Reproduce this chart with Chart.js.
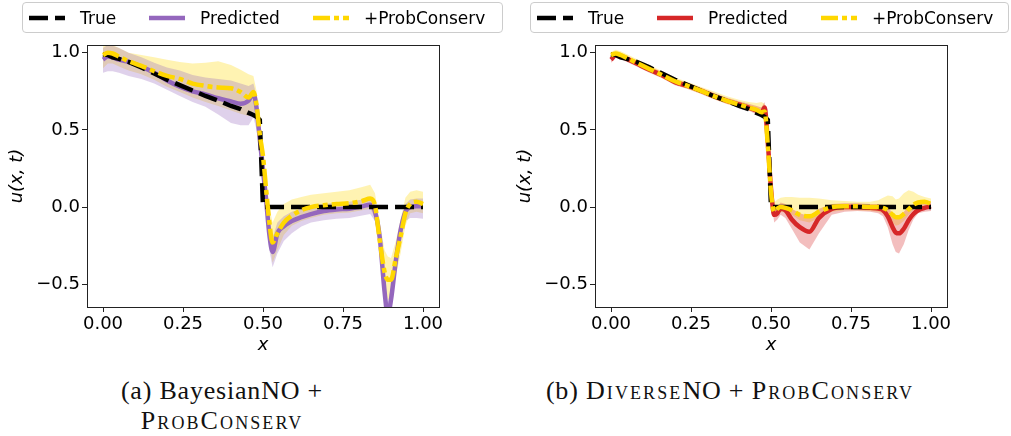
<!DOCTYPE html>
<html>
<head>
<meta charset="utf-8">
<script src="https://cdn.jsdelivr.net/npm/chart.js@4.4.1/dist/chart.umd.min.js"></script>
<style>
  body { margin: 0; background: #fff; width: 1011px; height: 436px; position: relative; overflow: hidden; }
  .panel { position: absolute; top: 0; width: 470px; height: 360px; }
  .legend {
    position: absolute; top: 2px; height: 29px; box-sizing: content-box;
    border: 1px solid #cccccc; border-radius: 4px; background: rgba(255,255,255,0.85);
    display: flex; align-items: center; padding: 0 6px;
    font-family: "DejaVu Sans", sans-serif; font-size: 17px; color: #000; z-index: 2;
  }
  .legend .item { display: flex; align-items: center; }
  .legend .item + .item { margin-left: 33px; }
  .legend svg { margin-right: 15px; }
  .caption {
    position: absolute; text-align: center; font-family: "Liberation Serif", serif;
    font-size: 26px; line-height: 30px; color: #111; letter-spacing: 0.8px;
  }
  .sc { font-variant: small-caps; letter-spacing: 2.1px; }
</style>
</head>
<body>
<div class="panel" style="left:0px"><canvas id="chartA"></canvas></div>
<div class="panel" style="left:508px"><canvas id="chartB"></canvas></div>
<div class="legend" id="legendA" style="left:22px; width:467px"></div>
<div class="legend" id="legendB" style="left:530px; width:465px"></div>
<div class="caption" style="left:72px; top:376px; width:300px">(a) BayesianNO +<br><span class="sc">ProbConserv</span></div>
<div class="caption" style="left:480px; top:376px; width:500px">(b) <span class="sc">Diverse</span>NO + <span class="sc">ProbConserv</span></div>
<script>
// x positions (same grid for both panels)
const xs = [0, 0.015, 0.03, 0.05, 0.08, 0.12, 0.16, 0.2, 0.24, 0.28, 0.32, 0.36, 0.4, 0.43, 0.455, 0.47, 0.48, 0.49, 0.5, 0.51,
  0.52, 0.53, 0.545, 0.565, 0.59, 0.62, 0.65, 0.69, 0.73, 0.77, 0.81, 0.835, 0.85, 0.865, 0.88, 0.89, 0.9, 0.915, 0.93, 0.945,
  0.96, 0.98, 1.0];

const trueU = [0.99, 0.985, 0.97, 0.96, 0.94, 0.905, 0.865, 0.825, 0.79, 0.755, 0.72, 0.69, 0.655, 0.635, 0.61, 0.597, 0.585, 0.565,
  0, 0, 0, 0, 0, 0, 0, 0, 0, 0, 0, 0, 0, 0, 0, 0, 0, 0, 0, 0, 0, 0, 0, 0, 0];

// (a) BayesianNO
const bnoPred = [0.955, 0.975, 0.97, 0.955, 0.94, 0.91, 0.87, 0.82, 0.78, 0.75, 0.73, 0.705, 0.685, 0.67, 0.69, 0.735, 0.64, 0.44, 0.24, 0.04,
  -0.18, -0.29, -0.17, -0.125, -0.09, -0.065, -0.045, -0.025, -0.015, -0.01, 0.005, 0.015, -0.03, -0.2, -0.55, -0.7, -0.6, -0.35, -0.15, -0.03,
  0.0, 0.005, 0.005];
const bnoPredLo = [0.87, 0.88, 0.88, 0.87, 0.85, 0.83, 0.8, 0.76, 0.72, 0.68, 0.65, 0.6, 0.545, 0.53, 0.53, 0.58, 0.5, 0.35, 0.15, -0.05,
  -0.28, -0.39, -0.3, -0.22, -0.17, -0.125, -0.1, -0.085, -0.075, -0.07, -0.055, -0.045, -0.09, -0.26, -0.62, -0.8, -0.7, -0.42, -0.21, -0.09,
  -0.07, -0.07, -0.075];
const bnoPredHi = [1.03, 1.05, 1.045, 1.03, 1.0, 0.97, 0.935, 0.905, 0.885, 0.855, 0.84, 0.83, 0.82, 0.8, 0.785, 0.8, 0.72, 0.5, 0.33, 0.12,
  -0.1, -0.2, -0.1, -0.06, -0.03, -0.01, 0.005, 0.02, 0.03, 0.035, 0.05, 0.06, 0.02, -0.15, -0.45, -0.62, -0.52, -0.28, -0.09, 0.02,
  0.05, 0.055, 0.055];
const bnoPc = [0.985, 1.0, 0.995, 0.975, 0.945, 0.915, 0.88, 0.85, 0.83, 0.8, 0.785, 0.775, 0.77, 0.745, 0.71, 0.745, 0.66, 0.47, 0.33, 0.11,
  -0.1, -0.23, -0.17, -0.1, -0.055, -0.02, 0.0, 0.012, 0.02, 0.025, 0.04, 0.055, 0.01, -0.22, -0.42, -0.47, -0.47, -0.33, -0.19, -0.04,
  0.02, 0.035, 0.02];
const bnoPcLo = [0.9, 0.93, 0.93, 0.91, 0.885, 0.86, 0.825, 0.78, 0.745, 0.71, 0.68, 0.655, 0.625, 0.605, 0.59, 0.62, 0.55, 0.38, 0.22, 0.0,
  -0.22, -0.36, -0.28, -0.18, -0.12, -0.09, -0.07, -0.05, -0.04, -0.035, -0.02, -0.01, -0.07, -0.3, -0.52, -0.6, -0.6, -0.45, -0.3, -0.12,
  -0.04, -0.03, -0.04];
const bnoPcHi = [1.04, 1.06, 1.05, 1.03, 1.0, 0.985, 0.97, 0.955, 0.94, 0.93, 0.935, 0.945, 0.92, 0.89, 0.86, 0.85, 0.75, 0.56, 0.42, 0.2,
  0.0, -0.1, -0.03, 0.02, 0.05, 0.065, 0.08, 0.09, 0.1, 0.11, 0.13, 0.145, 0.09, -0.1, -0.28, -0.32, -0.33, -0.22, -0.08, 0.06,
  0.1, 0.11, 0.1];

// (b) DiverseNO
const dnoPred = [0.955, 0.985, 0.98, 0.96, 0.93, 0.89, 0.855, 0.81, 0.785, 0.755, 0.72, 0.69, 0.665, 0.645, 0.625, 0.61, 0.645, 0.42, 0.12, -0.05,
  -0.04, -0.01, -0.02, -0.08, -0.13, -0.16, -0.07, -0.012, 0.0, 0.0, -0.005, -0.01, -0.02, -0.06, -0.13, -0.165, -0.17, -0.14, -0.085, -0.045,
  -0.02, -0.005, 0.005];
const dnoPredLo = [0.935, 0.965, 0.96, 0.94, 0.91, 0.87, 0.835, 0.79, 0.765, 0.735, 0.7, 0.67, 0.645, 0.625, 0.6, 0.585, 0.6, 0.38, 0.06, -0.1,
  -0.08, -0.05, -0.07, -0.14, -0.23, -0.275, -0.17, -0.05, -0.03, -0.025, -0.03, -0.04, -0.06, -0.13, -0.24, -0.29, -0.3, -0.24, -0.15, -0.08,
  -0.04, -0.03, -0.025];
const dnoPredHi = [0.975, 1.005, 1.0, 0.98, 0.95, 0.91, 0.875, 0.83, 0.805, 0.775, 0.74, 0.71, 0.685, 0.67, 0.655, 0.645, 0.68, 0.46, 0.16, -0.01,
  0.0, 0.03, 0.02, -0.01, -0.04, -0.06, -0.01, 0.02, 0.025, 0.025, 0.02, 0.02, 0.015, 0.0, -0.04, -0.06, -0.06, -0.03, 0.0, 0.02,
  0.025, 0.03, 0.035];
const dnoPc = [0.985, 0.995, 0.985, 0.965, 0.935, 0.895, 0.855, 0.815, 0.785, 0.755, 0.72, 0.69, 0.665, 0.645, 0.63, 0.615, 0.62, 0.4, 0.1, -0.03,
  -0.01, 0.0, -0.005, -0.02, -0.05, -0.06, -0.03, 0.0, 0.005, 0.005, 0.0, 0.0, -0.005, -0.02, -0.05, -0.065, -0.065, -0.045, -0.015, 0.015,
  0.03, 0.035, 0.02];
const dnoPcLo = [0.965, 0.975, 0.965, 0.945, 0.915, 0.875, 0.835, 0.795, 0.765, 0.735, 0.7, 0.67, 0.645, 0.625, 0.61, 0.595, 0.59, 0.36, 0.06, -0.06,
  -0.04, -0.03, -0.035, -0.05, -0.085, -0.1, -0.07, -0.03, -0.02, -0.02, -0.025, -0.03, -0.04, -0.06, -0.1, -0.12, -0.115, -0.09, -0.05, -0.02,
  -0.005, 0.0, -0.01];
const dnoPcHi = [1.005, 1.02, 1.01, 0.99, 0.96, 0.92, 0.88, 0.84, 0.81, 0.78, 0.75, 0.72, 0.695, 0.68, 0.675, 0.68, 0.67, 0.45, 0.14, 0.03,
  0.05, 0.06, 0.065, 0.065, 0.06, 0.06, 0.055, 0.045, 0.04, 0.035, 0.035, 0.045, 0.06, 0.075, 0.07, 0.05, 0.055, 0.09, 0.11, 0.1,
  0.08, 0.065, 0.055];

const xTicks = [0, 0.25, 0.5, 0.75, 1];
const xTickLabels = ["0.00", "0.25", "0.50", "0.75", "1.00"];
const yTicks = [-0.5, 0, 0.5, 1];
const yTickLabels = ["\u22120.5", "0.0", "0.5", "1.0"];
const seriesLabels = ["True", "Predicted", "+ProbConserv"];

const BLACK = "#000000";
const GOLD = "#ffd700";
const trueDash = [19, 7];
const pcDash = [17, 4, 5, 4];

const pts = (arr) => xs.map((x, i) => ({ x: x, y: arr[i] }));

// draws the full box round the axes, like matplotlib spines
const framePlugin = {
  id: "frame",
  afterDraw(chart) {
    const { ctx, chartArea: a } = chart;
    ctx.save();
    ctx.strokeStyle = "#222";
    ctx.lineWidth = 1;
    ctx.strokeRect(Math.round(a.left) + 0.5, Math.round(a.top) + 0.5, Math.round(a.right - a.left), Math.round(a.bottom - a.top));
    ctx.restore();
  },
};

function bandSet(lo, hi, color) {
  return [
    { data: pts(lo), borderWidth: 0, pointRadius: 0, fill: false, order: 10 },
    { data: pts(hi), borderWidth: 0, pointRadius: 0, fill: "-1", backgroundColor: color, order: 9 },
  ];
}

function makePanel(canvasId, predColor, bandColor, pred, predLo, predHi, pc, pcLo, pcHi) {
  const tickFont = { family: "DejaVu Sans", size: 18 };
  const titleFont = { family: "DejaVu Sans", size: 18, style: "italic" };
  const common = { pointRadius: 0, fill: false, clip: 0, cubicInterpolationMode: "monotone" };

  return new Chart(document.getElementById(canvasId), {
    type: "line",
    data: {
      datasets: [
        ...bandSet(predLo, predHi, bandColor),
        ...bandSet(pcLo, pcHi, "rgba(255, 215, 0, 0.3)"),
        { ...common, label: seriesLabels[1], data: pts(pred), borderColor: predColor, borderWidth: 4.5, order: 3 },
        { ...common, label: seriesLabels[0], data: pts(trueU), borderColor: BLACK, borderWidth: 4.5, borderDash: trueDash, tension: 0, cubicInterpolationMode: "default", order: 2 },
        { ...common, label: seriesLabels[2], data: pts(pc), borderColor: GOLD, borderWidth: 4.5, borderDash: pcDash, order: 1 },
      ],
    },
    options: {
      responsive: true,
      maintainAspectRatio: false,
      animation: false,
      layout: { padding: { top: 45, right: 31, bottom: 0, left: 0 } },
      plugins: { legend: { display: false }, tooltip: { enabled: false } },
      scales: {
        x: {
          type: "linear",
          min: -0.05,
          max: 1.05,
          afterBuildTicks: (s) => { s.ticks = xTicks.map((v) => ({ value: v })); },
          afterFit: (s) => { s.height = 53; },
          ticks: { callback: (v) => xTickLabels[xTicks.indexOf(v)], font: tickFont, color: "#000", padding: 2, maxRotation: 0, autoSkip: false },
          grid: { drawOnChartArea: false, tickLength: 5, color: "#222" },
          border: { display: false },
          title: { display: true, text: "x", font: titleFont, color: "#000", padding: { top: 0, bottom: 4 } },
        },
        y: {
          min: -0.647,
          max: 1.05,
          afterBuildTicks: (s) => { s.ticks = yTicks.map((v) => ({ value: v })); },
          afterFit: (s) => { s.width = 87; },
          ticks: { callback: (v) => yTickLabels[yTicks.indexOf(v)], font: tickFont, color: "#000", padding: 2 },
          grid: { drawOnChartArea: false, tickLength: 5, color: "#222" },
          border: { display: false },
          title: { display: true, text: "u(x, t)", font: titleFont, color: "#000", padding: { top: 7, bottom: 0 } },
        },
      },
    },
    plugins: [framePlugin],
  });
}

// legend handles as small svg lines
function buildLegend(divId, predColor) {
  const colors = [BLACK, predColor, GOLD];
  const dashes = [trueDash, [], pcDash];
  const box = document.getElementById(divId);
  box.innerHTML = seriesLabels.map((lbl, i) =>
    `<div class="item"><svg width="36" height="10"><line x1="0" y1="5" x2="36" y2="5" stroke="${colors[i]}" stroke-width="4.5" stroke-dasharray="${dashes[i].join(" ")}"/></svg><span>${lbl}</span></div>`
  ).join("");
}

makePanel("chartA", "#9467bd", "rgba(148, 103, 189, 0.3)", bnoPred, bnoPredLo, bnoPredHi, bnoPc, bnoPcLo, bnoPcHi);
makePanel("chartB", "#d62728", "rgba(214, 39, 40, 0.3)", dnoPred, dnoPredLo, dnoPredHi, dnoPc, dnoPcLo, dnoPcHi);
buildLegend("legendA", "#9467bd");
buildLegend("legendB", "#d62728");
</script>
</body>
</html>
